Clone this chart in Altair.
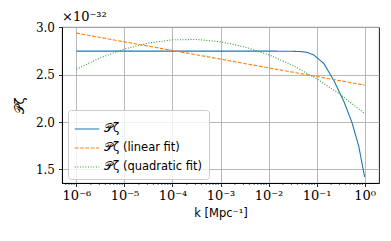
import altair as alt
import pandas as pd
import math

series_names = ["𝒫ζ", "𝒫ζ (linear fit)", "𝒫ζ (quadratic fit)"]
series_colors = ["#1f77b4", "#ff7f0e", "#2ca02c"]
offset_text = ["×10⁻³²"]

# P_zeta (units of 1e-32)
k_p = [1e-6, 1e-5, 1e-4, 1e-3, 1e-2, 0.0316, 0.0468, 0.0631, 0.0871, 0.141,
       0.229, 0.372, 0.550, 0.759, 1.0]
p_vals = [2.75, 2.75, 2.75, 2.75, 2.75, 2.748, 2.745, 2.737, 2.71, 2.62,
          2.44, 2.215, 1.99, 1.74, 1.42]

# linear fit
k_lin = [1e-6, 1e-5, 1e-4, 1e-3, 1e-2, 1e-1, 1.0]
lin_vals = [2.94, 2.848, 2.757, 2.665, 2.573, 2.482, 2.39]

# quadratic fit
k_quad = [1e-6, 3.16e-6, 1e-5, 3.16e-5, 1e-4, 3.16e-4, 1e-3, 3.16e-3, 1e-2,
          3.16e-2, 1e-1, 3.16e-1, 1.0]
quad_vals = [2.558, 2.68, 2.772, 2.835, 2.869, 2.873, 2.849, 2.795, 2.712,
             2.60, 2.459, 2.289, 2.09]

x_ticks = [1e-6, 1e-5, 1e-4, 1e-3, 1e-2, 1e-1, 1.0]
x_tick_labels = ["10⁻⁶", "10⁻⁵", "10⁻⁴", "10⁻³", "10⁻²", "10⁻¹", "10⁰"]
y_ticks = [1.5, 2.0, 2.5, 3.0]
minor_ticks = [m * 10.0 ** e for e in range(-7, 0) for m in range(2, 10)
               if 10 ** -6.3 < m * 10.0 ** e < 10 ** 0.3]

rows = []
for k, v in zip(k_p, p_vals):
    rows.append({"k": k, "P": v, "s": series_names[0]})
for k, v in zip(k_lin, lin_vals):
    rows.append({"k": k, "P": v, "s": series_names[1]})
for k, v in zip(k_quad, quad_vals):
    rows.append({"k": k, "P": v, "s": series_names[2]})
df = pd.DataFrame(rows)

label_expr = ""
for t, lab in zip(x_ticks, x_tick_labels):
    label_expr += f"abs(log(datum.value)/LN10 - ({math.log10(t)})) < 0.01 ? '{lab}' : "
label_expr += "''"

W, H = 317, 156
xscale = alt.Scale(type="log", domain=[10 ** -6.3, 10 ** 0.3], nice=False)
yscale = alt.Scale(domain=[1.355, 3.005], nice=False, zero=False)

lines = alt.Chart(df).mark_line(strokeWidth=1.1).encode(
    x=alt.X("k:Q", scale=xscale,
            axis=alt.Axis(values=x_ticks, labelExpr=label_expr, title="k [Mpc⁻¹]",
                          grid=True, tickSize=3.5, labelFontSize=13)),
    y=alt.Y("P:Q", scale=yscale,
            axis=alt.Axis(values=y_ticks, format=".1f", title="𝒫ζ", grid=True,
                          tickSize=3.5, labelFontSize=12)),
    color=alt.Color("s:N", scale=alt.Scale(domain=series_names, range=series_colors),
                    title=None,
                    legend=alt.Legend(orient="none", legendX=6, legendY=83,
                                      symbolType="stroke", symbolSize=600,
                                      symbolStrokeWidth=1.1,
                                      labelFont="DejaVu Sans", labelFontSize=11.5,
                                      labelColor="black",
                                      fillColor="rgba(255,255,255,0.8)",
                                      strokeColor="#cccccc", cornerRadius=3,
                                      padding=6, rowPadding=-3)),
    strokeDash=alt.StrokeDash("s:N", scale=alt.Scale(domain=series_names,
                                                      range=[[1, 0], [3.7, 1.6], [1, 1.65]]),
                              title=None),
    detail="s:N",
)

minor_df = pd.DataFrame({"k": minor_ticks})
minor = alt.Chart(minor_df).mark_rule(color="black", strokeWidth=0.6, clip=False).encode(
    x=alt.X("k:Q", scale=xscale),
    y=alt.value(H),
    y2=alt.value(H + 2),
)

offset_label = alt.Chart(pd.DataFrame({"t": offset_text})).mark_text(
    align="left", baseline="middle", font="DejaVu Serif", fontSize=13, color="black",
    clip=False,
).encode(text="t:N", x=alt.value(0), y=alt.value(-10))

chart = alt.layer(lines, minor, offset_label).properties(
    width=W, height=H,
    autosize=alt.AutoSizeParams(type="none"),
    padding={"left": 54, "top": 19, "right": 4, "bottom": 42},
).configure_view(stroke="black", strokeWidth=0.9).configure_axis(
    domainColor="black", domainWidth=0.9, tickColor="black", tickWidth=0.8,
    gridColor="#b0b0b0", gridWidth=0.9, labelFont="DejaVu Serif", labelFontSize=11,
    labelColor="black", titleFont="DejaVu Sans", titleFontSize=11.5, titleColor="black",
    titleFontWeight="normal", labelPadding=3,
).configure_axisY(titlePadding=9, labelPadding=4, titleFontSize=13).configure_axisX(titlePadding=5)

chart.save("out.html", embed_options={"renderer": "svg", "actions": False})
